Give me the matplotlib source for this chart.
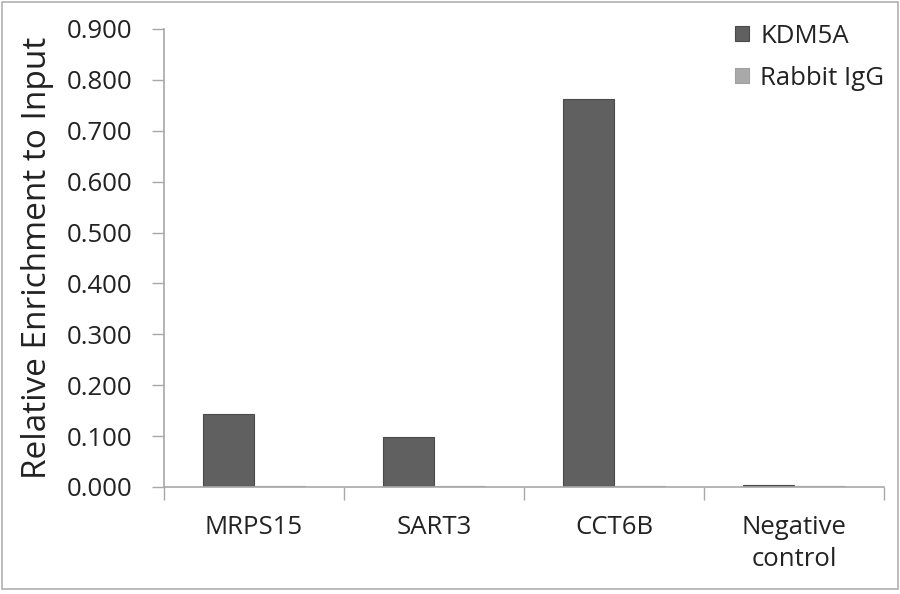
import matplotlib
matplotlib.use("Agg")
import matplotlib.pyplot as plt
import numpy as np
from matplotlib.patches import Rectangle

categories = ["MRPS15", "SART3", "CCT6B", "Negative\ncontrol"]
kdm5a = [0.143, 0.098, 0.763, 0.003]
rabbit_igg = [0.002, 0.002, 0.002, 0.002]
series_names = ["KDM5A", "Rabbit IgG"]
yticks = [0.0, 0.1, 0.2, 0.3, 0.4, 0.5, 0.6, 0.7, 0.8, 0.9]

plt.rcParams['font.family'] = ['Open Sans', 'DejaVu Sans']

fig = plt.figure(figsize=(9, 5.94), dpi=100)
ax = fig.add_axes([164/900, 1-487/594, 720/900, (487-29)/594])

x = np.arange(len(categories))
w = 0.2857
ax.bar(x - w/2, kdm5a, w, color="#606060", edgecolor="#4a4a4a", linewidth=0.8, label=series_names[0])
ax.bar(x + w/2, rabbit_igg, w, color="#a9a9a9", edgecolor="#a0a0a0", linewidth=0.8, label=series_names[1])

ax.set_xlim(-0.5, len(categories) - 0.5)
ax.set_ylim(0, 0.9)
ax.set_yticks(yticks)
ax.set_yticklabels([f"{v:.3f}" for v in yticks], fontsize=18.5, color="#222222")
ax.set_xticks(x)
ax.set_xticklabels(categories, fontsize=18.5, color="#222222", linespacing=1.4)
ax.set_xticks(np.arange(len(categories) + 1) - 0.5, minor=True)
ax.tick_params(axis='x', which='major', length=0, pad=20)
ax.tick_params(axis='x', which='minor', length=9, color="#a8a8a8", width=1)
ax.tick_params(axis='y', length=9, color="#a8a8a8", width=1, pad=14)

for s in ['top', 'right']:
    ax.spines[s].set_visible(False)
for s in ['left', 'bottom']:
    ax.spines[s].set_color("#a8a8a8")
    ax.spines[s].set_linewidth(1.2)

fig.text(38/900, 1-258/594, "Relative Enrichment to Input", fontsize=24, color="#222222",
         rotation=90, ha='center', va='center')

leg = ax.legend(loc="upper right", bbox_to_anchor=(1.022, 1.045), frameon=False, fontsize=18.5,
                handlelength=0.55, handleheight=0.55, handletextpad=0.45, labelspacing=0.65,
                borderaxespad=0.2)
for t in leg.get_texts():
    t.set_color("#222222")

fig.patches.append(Rectangle((0.002, 0.008), 0.996, 0.989, transform=fig.transFigure,
                             fill=False, edgecolor="#b0b0b0", linewidth=1.2))

fig.savefig("out.png", dpi=100)
